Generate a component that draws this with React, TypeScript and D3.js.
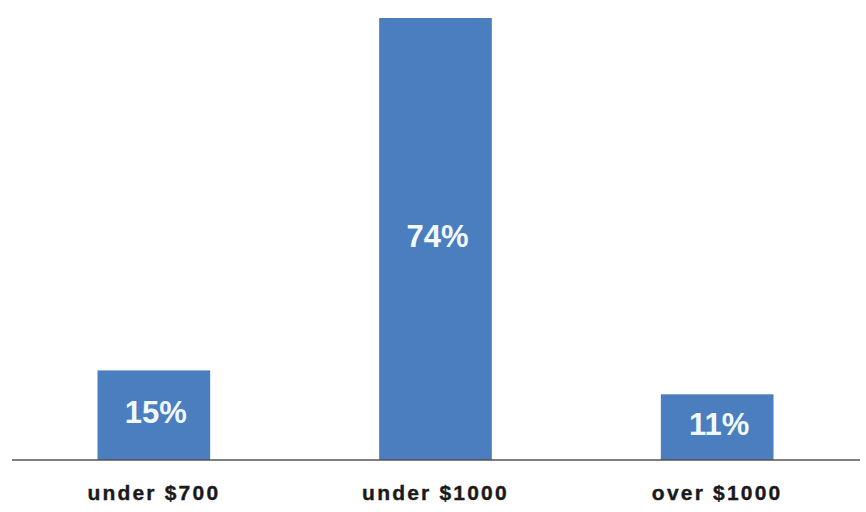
import React from "react";
import * as d3 from "d3";

const categories = ["under $700", "under $1000", "over $1000"];
const values = [15, 74, 11];
const valueLabels = ["15%", "74%", "11%"];

const W = 866;
const H = 512;

export default function App() {
  const x = d3
    .scaleBand<string>()
    .domain(categories)
    .range([13, 858])
    .paddingInner(0.6)
    .paddingOuter(0.3);
  const y = d3.scaleLinear().domain([0, 74]).range([460, 18]);
  const baseY = y(0);

  return (
    <svg
      width={W}
      height={H}
      style={{ position: "absolute", left: 0, top: 0, background: "#fff" }}
    >
      {categories.map((c, i) => {
        const bx = x(c)!;
        const top = y(values[i]);
        const mid = (top + baseY) / 2;
        return (
          <g key={c}>
            <rect
              x={bx}
              y={top}
              width={x.bandwidth()}
              height={baseY - top}
              fill="#4a7ebe"
            />
            <text
              x={bx + x.bandwidth() / 2 + 2}
              y={mid - 3}
              dy="0.36em"
              textAnchor="middle"
              fill="#f2f8ff"
              fontFamily="'Liberation Sans', Arial, sans-serif"
              fontWeight="bold"
              fontSize={31}
            >
              {valueLabels[i]}
            </text>
            <text
              x={bx + x.bandwidth() / 2}
              y={492}
              dy="0.36em"
              textAnchor="middle"
              fill="#1a1a1a"
              stroke="#1a1a1a"
              strokeWidth={0.4}
              fontFamily="'Liberation Sans', Arial, sans-serif"
              fontWeight="bold"
              fontSize={21}
              letterSpacing={2.2}
            >
              {c}
            </text>
          </g>
        );
      })}
      <line x1={12} x2={860} y1={baseY} y2={baseY} stroke="#555" strokeWidth={1.5} />
    </svg>
  );
}
